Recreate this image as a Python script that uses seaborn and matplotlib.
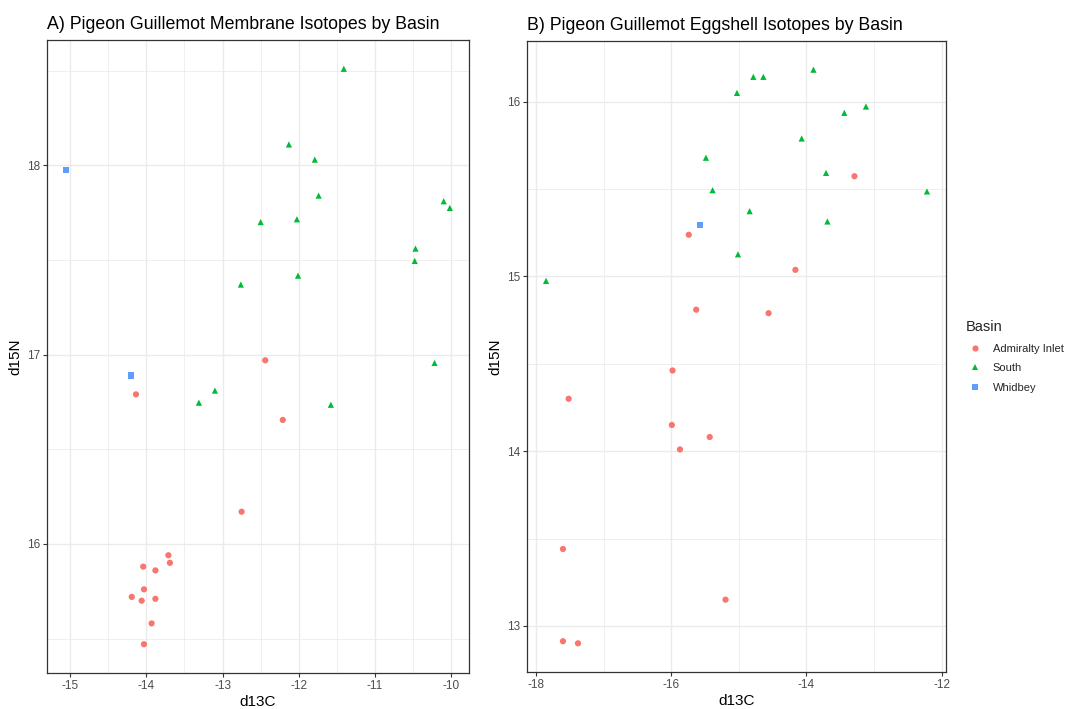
import numpy as np
import pandas as pd
import matplotlib
matplotlib.use("Agg")
import matplotlib.pyplot as plt
import seaborn as sns
from matplotlib.ticker import MultipleLocator

# ---------------- data ----------------
basins = ["Admiralty Inlet", "South", "Whidbey"]

# Panel A: membrane
mem_ai_d13c = [-12.44, -14.135, -12.21, -12.75, -13.71, -13.69, -14.04, -13.88, -14.03, -14.19, -14.06, -13.88, -13.93, -14.03]
mem_ai_d15n = [16.97, 16.79, 16.655, 16.17, 15.94, 15.90, 15.88, 15.86, 15.76, 15.72, 15.70, 15.71, 15.58, 15.47]
mem_s_d13c = [-11.41, -12.13, -11.79, -11.74, -10.10, -10.02, -12.50, -12.025, -10.47, -10.48, -12.01, -12.76, -10.22, -13.10, -13.31, -11.58]
mem_s_d15n = [18.51, 18.11, 18.03, 17.84, 17.81, 17.775, 17.70, 17.715, 17.56, 17.495, 17.417, 17.37, 16.956, 16.81, 16.746, 16.735]
mem_w_d13c = [-15.05, -14.195]
mem_w_d15n = [17.975, 16.89]

# Panel B: eggshell
egg_ai_d13c = [-13.29, -15.74, -14.163, -15.63, -14.56, -15.98, -17.516, -15.99, -15.43, -15.87, -17.60, -15.196, -17.60, -17.378]
egg_ai_d15n = [15.574, 15.239, 15.038, 14.81, 14.79, 14.462, 14.30, 14.15, 14.081, 14.01, 13.44, 13.15, 12.912, 12.90]
egg_s_d13c = [-13.896, -14.785, -14.637, -15.027, -13.12, -13.44, -14.07, -15.486, -13.71, -15.388, -12.218, -14.84, -13.69, -15.012, -17.85]
egg_s_d15n = [16.184, 16.143, 16.143, 16.051, 15.973, 15.937, 15.79, 15.68, 15.593, 15.494, 15.487, 15.374, 15.315, 15.127, 14.975]
egg_w_d13c = [-15.575]
egg_w_d15n = [15.293]


def make_df(groups):
    frames = []
    for name, xs, ys in groups:
        frames.append(pd.DataFrame({"d13C": xs, "d15N": ys, "Basin": name}))
    return pd.concat(frames, ignore_index=True)


mem = make_df([(basins[0], mem_ai_d13c, mem_ai_d15n),
               (basins[1], mem_s_d13c, mem_s_d15n),
               (basins[2], mem_w_d13c, mem_w_d15n)])
egg = make_df([(basins[0], egg_ai_d13c, egg_ai_d15n),
               (basins[1], egg_s_d13c, egg_s_d15n),
               (basins[2], egg_w_d13c, egg_w_d15n)])

# ---------------- style ----------------
sns.set_style("white")
plt.rcParams["font.family"] = ["Liberation Sans", "DejaVu Sans"]
plt.rcParams["axes.unicode_minus"] = False

palette = dict(zip(basins, ["#F8766D", "#00BA38", "#619CFF"]))
markers = dict(zip(basins, ["o", "^", "s"]))

fig = plt.figure(figsize=(10.66, 7.09), dpi=100)
W, H = 1066, 709


def axes_px(l, t, r, b):
    return fig.add_axes([l / W, 1 - b / H, (r - l) / W, (b - t) / H])


axA = axes_px(47, 40, 469, 673)
axB = axes_px(527, 41, 946, 672)


def expand(vals, f=0.05):
    lo, hi = min(vals), max(vals)
    d = (hi - lo) * f
    return lo - d, hi + d


def style_ax(ax, df, xmaj, ymaj, title):
    ax.set_xlim(*expand(df["d13C"]))
    ax.set_ylim(*expand(df["d15N"]))
    ax.xaxis.set_major_locator(MultipleLocator(xmaj))
    ax.xaxis.set_minor_locator(MultipleLocator(xmaj / 2))
    ax.yaxis.set_major_locator(MultipleLocator(ymaj))
    ax.yaxis.set_minor_locator(MultipleLocator(ymaj / 2))
    ax.grid(which="major", color="#EBEBEB", lw=1.0, zorder=0)
    ax.grid(which="minor", color="#EBEBEB", lw=0.55, zorder=0)
    ax.set_axisbelow(True)
    for s in ax.spines.values():
        s.set_color("#333333")
        s.set_linewidth(0.9)
    ax.tick_params(which="major", length=3, width=0.8, color="#333333",
                   labelsize=8.5, labelcolor="#4D4D4D", pad=2, bottom=True, left=True)
    ax.tick_params(which="minor", length=0)
    ax.set_xlabel("d13C", fontsize=11, color="black", labelpad=2)
    ax.set_ylabel("d15N", fontsize=11, color="black", labelpad=3)
    ax.set_title(title, loc="left", fontsize=12.8, color="black", pad=8)


sns.scatterplot(data=mem, x="d13C", y="d15N", hue="Basin", style="Basin",
                hue_order=basins, style_order=basins, palette=palette,
                markers=markers, s=20, linewidth=0, ax=axA, legend=False, zorder=3)
sns.scatterplot(data=egg, x="d13C", y="d15N", hue="Basin", style="Basin",
                hue_order=basins, style_order=basins, palette=palette,
                markers=markers, s=20, linewidth=0, ax=axB, legend=True, zorder=3)

style_ax(axA, mem, 1, 1, "A) Pigeon Guillemot Membrane Isotopes by Basin")
style_ax(axB, egg, 2, 1, "B) Pigeon Guillemot Eggshell Isotopes by Basin")

sns.move_legend(axB, loc="center left", bbox_to_anchor=(1.027, 0.5),
                frameon=False, title="Basin", fontsize=8, title_fontsize=10.5,
                handletextpad=0.8, labelspacing=0.85, markerscale=1.0,
                borderpad=0.3, handlelength=1.6, alignment="left")

fig.savefig("out.png", dpi=100)
